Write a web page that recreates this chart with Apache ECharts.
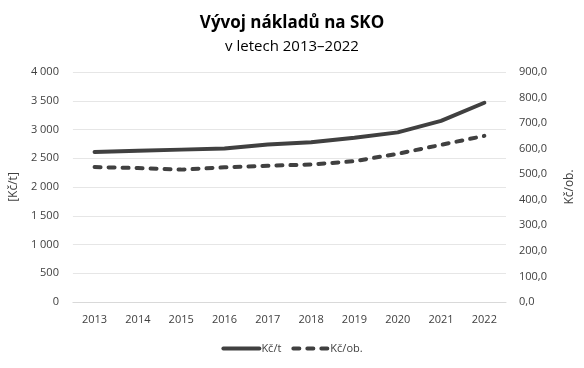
<!DOCTYPE html>
<html><head><meta charset="utf-8">
<script src="https://cdn.jsdelivr.net/npm/echarts@6/dist/echarts.min.js"></script>
<style>html,body{margin:0;padding:0;background:#fff}#c{width:584px;height:368px}</style>
</head><body><div id="c"></div>
<script>
const years = ['2013','2014','2015','2016','2017','2018','2019','2020','2021','2022'];
const kcPerTon = [2610, 2630, 2650, 2670, 2740, 2780, 2855, 2950, 3150, 3465];
const kcPerObyv = [528, 524, 518, 527, 533, 538, 551, 580, 615, 650];

const font = 'Open Sans, Liberation Sans, sans-serif';
const chart = echarts.init(document.getElementById('c'));
chart.setOption({
  backgroundColor: '#fff',
  animation: false,
  title: [
    {text: 'Vývoj nákladů na SKO', left: 'center', top: 10,
     textStyle: {fontFamily: font, fontSize: 17, fontWeight: 'bold', color: '#000'}},
    {text: 'v letech 2013–2022', left: 'center', top: 34,
     textStyle: {fontFamily: font, fontSize: 15, fontWeight: 'normal', color: '#000'}}
  ],
  grid: {left: 70, right: 78, top: 72, bottom: 66},
  legend: {
    bottom: 9, left: 'center', itemWidth: 40, itemHeight: 4, itemGap: 10,
    textStyle: {fontFamily: font, fontSize: 11, color: '#404040', padding: [0,0,0,-5]},
    data: [
      {name: 'Kč/t', icon: 'path://M2,0h36a2,2 0 0 1 0,4h-36a2,2 0 0 1 0,-4z'},
      {name: 'Kč/ob.', icon: 'path://M2,0h6a2,2 0 0 1 0,4h-6a2,2 0 0 1 0,-4z M16,0h6a2,2 0 0 1 0,4h-6a2,2 0 0 1 0,-4z M30,0h6a2,2 0 0 1 0,4h-6a2,2 0 0 1 0,-4z'}
    ]
  },
  xAxis: {
    type: 'category', data: years, boundaryGap: true,
    axisLine: {lineStyle: {color: '#d9d9d9'}},
    axisTick: {show: false},
    axisLabel: {fontFamily: font, fontSize: 11, color: '#404040', margin: 12}
  },
  yAxis: [
    {type: 'value', min: 0, max: 4000, interval: 500,
     name: '[Kč/t]', nameLocation: 'middle', nameRotate: 90, nameGap: 52,
     nameTextStyle: {fontFamily: font, fontSize: 12, color: '#404040'},
     axisLine: {show: false}, axisTick: {show: false},
     splitLine: {lineStyle: {color: '#e6e6e6'}},
     axisLabel: {fontFamily: font, fontSize: 11, color: '#404040', margin: 14,
       formatter: v => String(v).replace(/\B(?=(\d{3})+(?!\d))/g, ' ')}},
    {type: 'value', min: 0, max: 900, interval: 100, position: 'right',
     name: 'Kč/ob.', nameLocation: 'middle', nameRotate: 90, nameGap: 58,
     nameTextStyle: {fontFamily: font, fontSize: 12, color: '#404040'},
     axisLine: {show: false}, axisTick: {show: false},
     splitLine: {show: false},
     axisLabel: {fontFamily: font, fontSize: 11, color: '#404040', margin: 13,
       formatter: v => v.toFixed(1).replace('.', ',')}}
  ],
  series: [
    {name: 'Kč/t', type: 'line', yAxisIndex: 0, data: kcPerTon, symbol: 'none',
     lineStyle: {color: '#404040', width: 4, cap: 'round', join: 'round'},
     itemStyle: {color: '#404040'}},
    {name: 'Kč/ob.', type: 'line', yAxisIndex: 1, data: kcPerObyv, symbol: 'none',
     lineStyle: {color: '#404040', width: 4, type: [6, 8], cap: 'round', join: 'round'},
     itemStyle: {color: '#404040'}}
  ]
});
</script></body></html>
